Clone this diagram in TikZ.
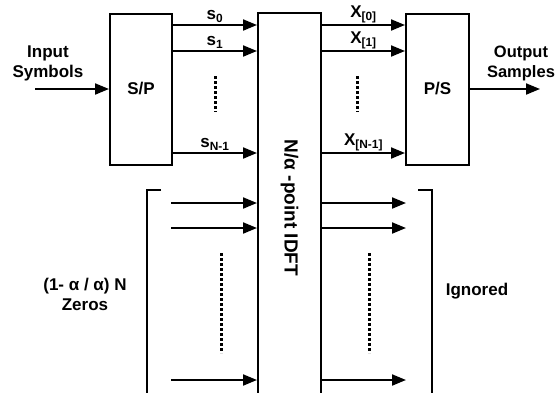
\documentclass[tikz,border=0pt]{standalone}
\usepackage{fontspec}
\setmainfont{Liberation Sans}
\usetikzlibrary{arrows.meta}

\begin{document}
\begin{tikzpicture}[x=1pt, y=-1pt,
  blk/.style={draw, line width=2pt, inner sep=0pt},
  sig/.style={line width=2pt, -{Triangle[length=14pt, width=11pt]}},
  vdots/.style={line width=3pt, dash pattern=on 3pt off 2pt},
  lbl/.style={font=\fontsize{17}{20}\selectfont\bfseries, align=center},
  font=\fontsize{17}{20}\selectfont\bfseries]
\useasboundingbox (0,0) rectangle (560,392);
\clip (0,0) rectangle (560,392);
% blocks
\node[blk, minimum width=62pt, minimum height=151pt] (sp) at (141,89) {S/P};
\node[blk, minimum width=63pt, minimum height=151pt] (ps) at (437.5,89) {P/S};
\node[blk, minimum width=63pt, minimum height=390pt] (idft) at (289.5,208) {};
\node[lbl, rotate=-90, font=\fontsize{19}{22}\selectfont\bfseries] (idftlbl) at (289.5,208) {N/α -point IDFT};
% input and output
\coordinate (in) at (35,89);
\coordinate (out) at (540,89);
\draw[sig] (in) -- (sp.west);
\draw[sig] (ps.east) -- (out);
\node[lbl] (inlbl) at (48,63) {Input\\Symbols};
\node[lbl, font=\fontsize{16.5}{20}\selectfont\bfseries] (outlbl) at (521,63) {Output\\Samples};
% data streams
\foreach \y/\s/\x in {25/0/[0], 51/1/[1], 153/N-1/[N-1]} {
  \draw[sig] (sp.east |- 0,\y) -- node[above, inner sep=1.5pt] {s\textsubscript{\s}} (idft.west |- 0,\y);
  \draw[sig] (idft.east |- 0,\y) -- node[above, inner sep=1.5pt] {X\textsubscript{\x}} (ps.west |- 0,\y);
}
\draw[vdots] (215,76) -- (215,112);
\draw[vdots] (357,76) -- (357,112);
% zero padding and ignored outputs
\foreach \y [count=\i] in {203, 228, 380} {
  \coordinate (z\i) at (171,\y);
  \coordinate (g\i) at (406,\y);
  \draw[sig] (z\i) -- (idft.west |- z\i);
  \draw[sig] (idft.east |- g\i) -- (g\i);
}
\draw[vdots] (221,253) -- (221,353);
\draw[vdots] (369,253) -- (369,353);
\draw[line width=2pt] (161,190) -- (147,190) -- (147,400);
\draw[line width=2pt] (418,190) -- (432,190) -- (432,400);
\node[lbl] (zlbl) at (85,294) {(1- α / α) N\\Zeros};
\node[lbl] (glbl) at (477,291) {Ignored};
\end{tikzpicture}
\end{document}
